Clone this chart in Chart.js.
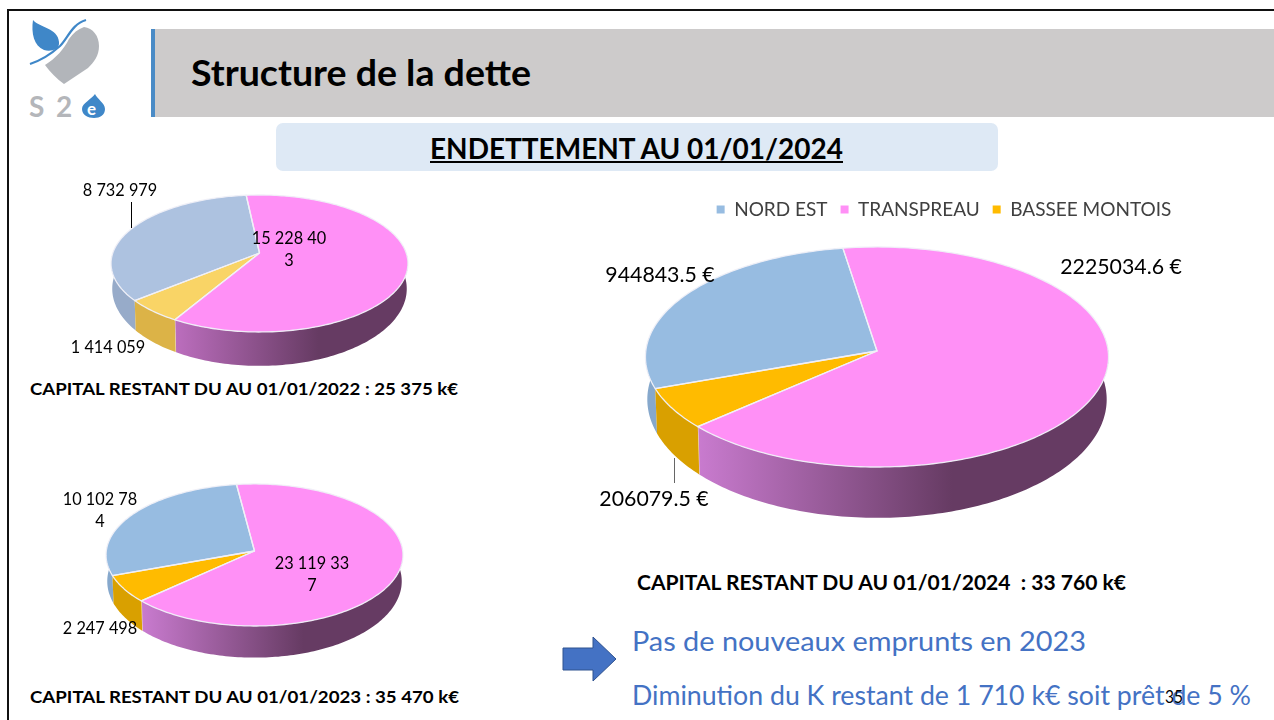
<!DOCTYPE html>
<html lang="fr"><head><meta charset="utf-8">
<script src="https://cdn.jsdelivr.net/npm/chart.js@4"></script>
<style>
html,body{margin:0;padding:0;background:#fff;width:1274px;height:720px;overflow:hidden;font-family:Lato,"Open Sans",sans-serif}
#frame{position:absolute;left:7px;top:9px;width:1280px;height:740px;border:2px solid #111;box-sizing:border-box}
#bar{position:absolute;left:151px;top:29px;width:1123px;height:88px;background:#cdcbcb;border-left:4px solid #4a8bc6;box-sizing:border-box}
#sub{position:absolute;left:276px;top:123px;width:722px;height:48px;background:#deE9f5;border-radius:7px}
.t{position:absolute;white-space:pre;transform-origin:0 50%;color:#000;line-height:1}
canvas{position:absolute}
svg{position:absolute;left:0;top:0}
</style></head><body>
<div id="frame"></div><div id="bar"></div><div id="sub"></div>
<svg width="1274" height="720">
  <path d="M84 27C93 28 99 36 99 46C99 56 94 62 88 68L64 84C57 79 50 72 45 65C56 58 64 49 69 39C73 33 78 29 84 27Z" fill="#b2b5ba"/>
  <path d="M33 20C40 28 58 28 59 42C60 50 50 52 44 50C34 46 31 33 33 20Z" fill="#3f87c8"/>
  <path d="M86 20C72 24 68 38 60 46C50 55 42 60 30 64" fill="none" stroke="#3f87c8" stroke-width="2.2"/>
  <text x="29" y="117" font-family="Lato" font-weight="700" font-size="28" fill="#b4b6ba">S</text>
  <text x="56" y="117" font-family="Lato" font-weight="700" font-size="28" fill="#b4b6ba">2</text>
  <path d="M95 94C97 99 105 103 105 109C105 115 100 118 94 118C88 118 82 115 82 109C82 103 92 99 95 94Z" fill="#3f87c8"/>
  <text x="87" y="115" font-family="Lato" font-weight="700" font-size="17" fill="#fff">e</text>
  <polygon points="563,648 593,648 593,637 616,659 593,681 593,670 563,670" fill="#4472c4" stroke="#2f528f" stroke-width="1"/>
</svg>
<canvas id="c2022" width="400" height="195" style="left:40px;top:178px"></canvas>
<canvas id="c2023" width="400" height="195" style="left:40px;top:472px"></canvas>
<canvas id="c2024" width="684" height="343" style="left:590px;top:182px"></canvas>
<div id="texts"></div>
<script>
const categories = ['NORD EST', 'TRANSPREAU', 'BASSEE MONTOIS'];
const values2022 = [8732979, 15228403, 1414059];
const values2023 = [10102784, 23119337, 2247498];
const values2024 = [944843.5, 2225034.6, 206079.5];
const labels2022 = ['8 732 979', '15 228 40\n3', '1 414 059'];
const labels2023 = ['10 102 78\n4', '23 119 33\n7', '2 247 498'];
const labels2024 = ['944843.5 €', '2225034.6 €', '206079.5 €'];
const topColors2022 = ['#adc2e0', '#ff90f6', '#f9d466'];
const topColors = ['#97bce1', '#ff90f6', '#ffbb00'];
const sideColors2022 = ['#97abc9', '#bc6ebe', '#dcb347'];
const sideColors = ['#86a8cc', '#c97bcf', '#d9a000'];
const darkSide = '#663b63';

const rimPoint = (g, th) => {
  const u = Math.sin(th), v = -Math.cos(th), d = 1 - g.k * v;
  return [g.cx + g.sx * u / d, g.cy + g.sy * v / d];
};
const basePoint = (g, th) => {
  const p = rimPoint(g, th);
  return [g.cx + (p[0] - g.cx) * g.baseX, g.cy + (p[1] - g.cy) * g.baseY + g.depth];
};
const sample = (fn, g, a, b) => {
  const n = Math.max(2, Math.ceil(Math.abs(b - a) / 0.02)), pts = [];
  for (let i = 0; i <= n; i++) pts.push(fn(g, a + (b - a) * i / n));
  return pts;
};
const pie3d = {
  id: 'pie3d',
  beforeDatasetDraw(chart, args, opts) {
    const ctx = chart.ctx, g = opts.geo, ds = chart.data.datasets[args.index];
    const els = chart.getDatasetMeta(args.index).data;
    ctx.save();
    const LO = Math.PI / 2 - 0.12, HI = 3 * Math.PI / 2 + 0.12;
    els.forEach((el, i) => {
      const a0 = el.startAngle + Math.PI / 2, a1 = el.endAngle + Math.PI / 2;
      [0, 2 * Math.PI, -2 * Math.PI].forEach(sh => {
        const lo = Math.max(a0 + sh, LO), hi = Math.min(a1 + sh, HI);
        if (hi <= lo) return;
        const top = sample(rimPoint, g, lo, hi), bot = sample(basePoint, g, hi, lo);
        ctx.beginPath();
        top.concat(bot).forEach((p, j) => j ? ctx.lineTo(p[0], p[1]) : ctx.moveTo(p[0], p[1]));
        ctx.closePath();
        if (i === 1) {
          const x0 = rimPoint(g, hi)[0], x1 = g.cx + g.sx;
          const gr = ctx.createLinearGradient(x0, 0, x1, 0);
          gr.addColorStop(0, ds.sideColors[i]);
          gr.addColorStop(0.62, darkSide);
          gr.addColorStop(1, darkSide);
          ctx.fillStyle = gr;
        } else ctx.fillStyle = ds.sideColors[i];
        ctx.fill();
        if (i === 1) {
          const p = rimPoint(g, hi), q = basePoint(g, hi);
          ctx.strokeStyle = 'rgba(245,240,200,.75)'; ctx.lineWidth = 1.2;
          ctx.beginPath(); ctx.moveTo(p[0], p[1]); ctx.lineTo(q[0], q[1]); ctx.stroke();
        }
      });
    });
    const wedge = el => {
      const a0 = el.startAngle + Math.PI / 2, a1 = el.endAngle + Math.PI / 2;
      ctx.beginPath();
      ctx.moveTo(g.cx, g.cy);
      sample(rimPoint, g, a0, a1).forEach(p => ctx.lineTo(p[0], p[1]));
      ctx.closePath();
    };
    els.forEach(el => { wedge(el); ctx.fillStyle = el.options.backgroundColor; ctx.fill(); });
    ctx.strokeStyle = 'rgba(240,240,248,.95)'; ctx.lineWidth = 1.3; ctx.lineJoin = 'round';
    els.forEach(el => { wedge(el); ctx.stroke(); });
    ctx.restore();
    return false;
  },
  afterDatasetsDraw(chart, args, opts) {
    const ctx = chart.ctx;
    ctx.save();
    if (opts.leader) {
      ctx.strokeStyle = opts.leader.color; ctx.lineWidth = 1;
      ctx.beginPath(); ctx.moveTo(opts.leader.x + .5, opts.leader.y0); ctx.lineTo(opts.leader.x + .5, opts.leader.y1); ctx.stroke();
    }
    ctx.font = opts.font; ctx.fillStyle = '#000'; ctx.textAlign = 'center'; ctx.textBaseline = 'middle';
    opts.labels.forEach((txt, i) => {
      const pos = opts.labelPos[i];
      txt.split('\n').forEach((ln, j) => ctx.fillText(ln, pos[0], pos[1] + j * opts.lineGap));
    });
    ctx.restore();
  }
};
Chart.register(pie3d);

function make(id, box, values, colors, sides, rotation, geo, labels, labelPos, font, lineGap, leader, legend) {
  const g = Object.assign({}, geo, { cx: geo.cx - box.x, cy: geo.cy - box.y });
  return new Chart(document.getElementById(id), {
    type: 'pie',
    data: { labels: categories, datasets: [{ data: values, backgroundColor: colors, sideColors: sides, borderWidth: 0 }] },
    options: {
      responsive: false, animation: false, devicePixelRatio: 1, rotation,
      layout: { padding: legend ? { left: 24, top: 5 } : 0 },
      plugins: {
        tooltip: { enabled: false },
        legend: legend ? {
          display: true, position: 'top', align: 'center',
          labels: { boxWidth: 8, boxHeight: 8, padding: 13, color: '#404040', font: { family: 'Lato', size: 19 } }
        } : { display: false },
        pie3d: {
          geo: g, labels, font, lineGap,
          labelPos: labelPos.map(p => [p[0] - box.x, p[1] - box.y]),
          leader: leader ? { x: leader.x - box.x, y0: leader.y0 - box.y, y1: leader.y1 - box.y, color: leader.color } : null
        }
      }
    }
  });
}

make('c2022', { x: 40, y: 178 }, values2022, topColors2022, sideColors2022, -129.9,
  { cx: 259.5, cy: 253, sx: 146.7, sy: 66.9, k: 0.153, depth: 24, baseX: 0.992, baseY: 1.125 },
  labels2022, [[120, 191], [289, 239], [108, 348]], '16.3px Lato', 22,
  { x: 131, y0: 202, y1: 228, color: '#000' }, false);
make('c2023', { x: 40, y: 472 }, values2023, topColors, sideColors, -109.9,
  { cx: 254.5, cy: 551, sx: 148.2, sy: 70.8, k: 0.056, depth: 26, baseX: 0.992, baseY: 1.075 },
  labels2023, [[100, 500], [312, 564], [100, 629]], '16.3px Lato', 22, null, false);
make('c2024', { x: 590, y: 182 }, values2024, topColors, sideColors, -109.7,
  { cx: 877, cy: 351, sx: 231.2, sy: 109.7, k: 0.0545, depth: 42, baseX: 0.992, baseY: 1.076 },
  labels2024, [[660, 275], [1121, 267], [654, 499]], '21.3px Lato', 0,
  { x: 674, y0: 458, y1: 483, color: '#666' }, true);

// slide text: [string, left, centre y, target width, size, weight, colour, underline]
const slideTexts = [
  ['Structure de la dette', 191, 72, 340, 36, 700, '#000', false],
  ['ENDETTEMENT AU 01/01/2024', 430, 148, 413, 28, 700, '#000', true],
  ['CAPITAL RESTANT DU AU 01/01/2022 : 25 375 k€', 30, 389, 428, 17.5, 700, '#000', false],
  ['CAPITAL RESTANT DU AU 01/01/2023 : 35 470 k€', 30, 697, 429, 17.5, 700, '#000', false],
  ['CAPITAL RESTANT DU AU 01/01/2024  : 33 760 k€', 637, 582, 489, 20, 700, '#000', false],
  ['Pas de nouveaux emprunts en 2023', 632, 640, 454, 27, 400, '#4472c4', false],
  ['Diminution du K restant de 1 710 k€ soit prêt de 5 %', 632, 694, 619, 27, 400, '#4472c4', false],
  ['35', 1165, 696, 18, 17, 400, '#000', false]
];
const host = document.getElementById('texts');
slideTexts.forEach(([s, x, y, w, size, weight, col, ul]) => {
  const d = document.createElement('div');
  d.className = 't'; d.textContent = s;
  d.style.cssText = `left:${x}px;top:${y - size / 2}px;font-size:${size}px;font-weight:${weight};color:${col};` + (ul ? 'text-decoration:underline;' : '');
  host.appendChild(d);
  const r = d.getBoundingClientRect().width;
  d.style.transform = `scaleX(${w / r})`;
});
</script>
</body></html>
